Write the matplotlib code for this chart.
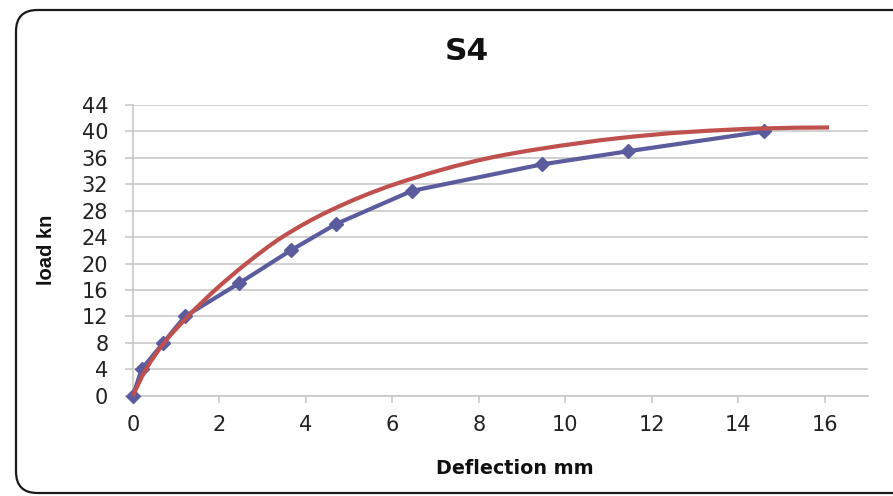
import matplotlib
matplotlib.use("Agg")
import matplotlib.pyplot as plt
from matplotlib.patches import FancyBboxPatch, PathPatch
from matplotlib.path import Path
from matplotlib import font_manager
import numpy as np

# ---- data ----
title = "S4"
x_label = "Deflection mm"
y_label = "load kn"

exp_deflection = [0, 0.2, 0.7, 1.2, 2.45, 3.65, 4.7, 6.45, 9.45, 11.45, 14.6]
exp_load = [0, 4, 8, 12, 17, 22, 26, 31, 35, 37, 40]

fit_deflection = [0, 0.3, 0.72, 1.27, 1.9, 2.62, 3.45, 4.55, 6.05, 8.25, 9.45, 11.26, 12.8, 14.57, 16.1]
fit_load = [0, 4, 8, 12, 16, 20, 24, 28, 32, 36, 37.4, 39.0, 39.9, 40.45, 40.6]

x_ticks = [0, 2, 4, 6, 8, 10, 12, 14, 16]
y_ticks = [0, 4, 8, 12, 16, 20, 24, 28, 32, 36, 40, 44]

BLUE = "#5a5c9e"
RED = "#c0504d"
GRID = "#c8c8c8"
W, H = 893, 496

fig = plt.figure(figsize=(W / 100, H / 100), dpi=100)
fig.patch.set_facecolor("white")

# rounded border
border = FancyBboxPatch((16 / W, 3 / H), 905 / W, 483 / H,
                        boxstyle="round,pad=0,rounding_size=0.024",
                        transform=fig.transFigure, facecolor="none",
                        edgecolor="#1a1a1a", linewidth=1.6, clip_on=False,
                        mutation_aspect=W / H)
fig.patches.append(border)

ax = fig.add_axes([133 / W, 1 - 395.7 / H, (868 - 133) / W, (395.7 - 105) / H])
ax.set_xlim(0, 17)
ax.set_ylim(0, 44)
ax.set_xticks(x_ticks)
ax.set_yticks(y_ticks)
ax.yaxis.grid(True, color=GRID, linewidth=1.2)
ax.set_axisbelow(True)
for s in ["top", "right"]:
    ax.spines[s].set_visible(False)
for s in ["left", "bottom"]:
    ax.spines[s].set_color(GRID)
    ax.spines[s].set_linewidth(1.2)
ax.tick_params(axis="y", length=5.8, color=GRID, width=1.2, pad=12,
               labelsize=15, labelcolor="#222222")
ax.tick_params(axis="x", length=5, color=GRID, width=1.2, pad=8.6,
               labelsize=15, labelcolor="#222222")
for lab in ax.get_xticklabels() + ax.get_yticklabels():
    lab.set_fontfamily(["DejaVu Sans"])

# experimental series
ax.plot(exp_deflection, exp_load, color=BLUE, linewidth=3.0, marker="D",
        markersize=7, markerfacecolor=BLUE, markeredgecolor=BLUE, zorder=3,
        clip_on=False)

# smooth fitted curve: monotone cubic Hermite segments drawn as Bezier path
px = np.array(fit_deflection, float)
py = np.array(fit_load, float)
h = np.diff(px)
d = np.diff(py) / h
m = np.zeros_like(px)
for i in range(1, len(px) - 1):
    if d[i - 1] * d[i] <= 0:
        m[i] = 0
    else:
        w1 = 2 * h[i] + h[i - 1]
        w2 = h[i] + 2 * h[i - 1]
        m[i] = (w1 + w2) / (w1 / d[i - 1] + w2 / d[i])
m[0] = ((2 * h[0] + h[1]) * d[0] - h[0] * d[1]) / (h[0] + h[1])
m[-1] = ((2 * h[-1] + h[-2]) * d[-1] - h[-1] * d[-2]) / (h[-1] + h[-2])
m[-1] = max(m[-1], 0)
verts = [(px[0], py[0])]
codes = [Path.MOVETO]
for i in range(len(px) - 1):
    hh = h[i]
    verts += [(px[i] + hh / 3, py[i] + m[i] * hh / 3),
              (px[i + 1] - hh / 3, py[i + 1] - m[i + 1] * hh / 3),
              (px[i + 1], py[i + 1])]
    codes += [Path.CURVE4] * 3
ax.add_patch(PathPatch(Path(verts, codes), facecolor="none", edgecolor=RED,
                       linewidth=3.0, zorder=4, capstyle="butt", clip_on=False))

fig.text(466.5 / W, 1 - 52 / H, title, ha="center", va="center",
         fontsize=22.5, fontweight="bold", family=["DejaVu Sans"],
         color="#111111")
fig.text(515 / W, 1 - 469 / H, x_label, ha="center", va="center",
         fontsize=13.8, fontweight="bold", family=["DejaVu Sans"],
         color="#111111")

names = {f.name for f in font_manager.fontManager.ttflist}
if "Liberation Sans Narrow" in names:
    yl_family, yl_size = ["Liberation Sans Narrow", "DejaVu Sans"], 17.5
else:
    yl_family, yl_size = ["Liberation Sans", "DejaVu Sans"], 14.5
fig.text(46 / W, 1 - 250 / H, y_label, ha="center", va="center",
         rotation=90, fontsize=yl_size, fontweight="bold",
         family=yl_family, color="#111111")

fig.savefig("out.png", dpi=100, facecolor="white")
